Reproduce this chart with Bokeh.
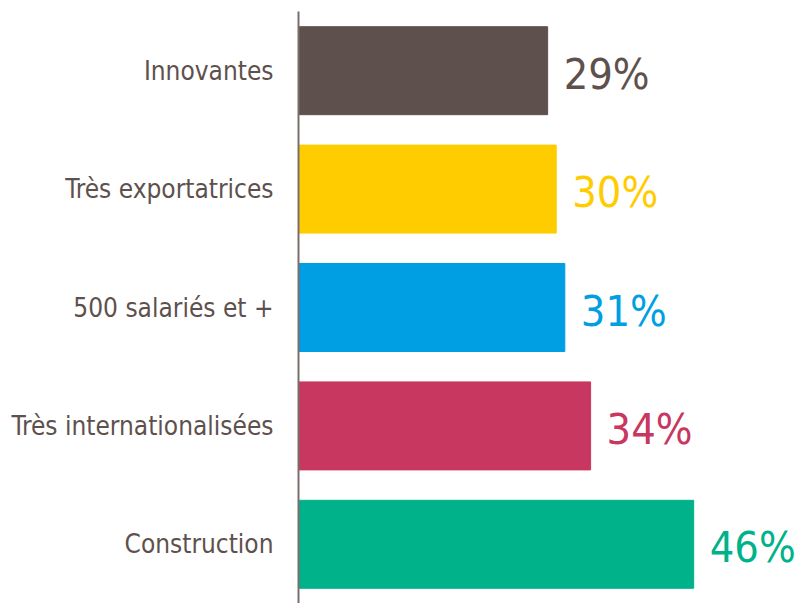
from bokeh.plotting import figure
from bokeh.models import ColumnDataSource, Range1d, FactorRange
from bokeh.embed import file_html
from bokeh.resources import INLINE
from bokeh.core.properties import value

categories = ["Innovantes", "Très exportatrices", "500 salariés et +",
              "Très internationalisées", "Construction"]
values = [29, 30, 31, 34, 46]
colors = ["#5E514D", "#FFCC00", "#009FE3", "#C8375F", "#00B28A"]
labels = [f"{v}%" for v in values]

FONT = "DejaVu Sans Condensed"

src = ColumnDataSource(dict(cat=categories, val=values, col=colors, lab=labels))

p = figure(width=798, height=603, output_backend="svg", toolbar_location=None,
           y_range=FactorRange(factors=list(reversed(categories)), range_padding=0),
           x_range=Range1d(0, 58.2),
           min_border_left=298, min_border_right=0, min_border_top=11, min_border_bottom=0)

p.hbar(y="cat", right="val", left=0, height=0.743, color="col", source=src)
p.text(x="val", y="cat", text="lab", text_color="col", source=src,
       x_offset=16, y_offset=3, text_align="left", text_baseline="middle",
       text_font=value(FONT), text_font_size="43px")

p.xaxis.visible = False
p.xgrid.visible = False
p.ygrid.visible = False
p.outline_line_color = None
p.background_fill_color = "white"
p.border_fill_color = "white"

ya = p.yaxis[0]
ya.axis_line_color = "#7A6E6A"
ya.axis_line_width = 2
ya.major_tick_line_color = None
ya.minor_tick_line_color = None
ya.major_label_text_font = FONT
ya.major_label_text_font_size = "26px"
ya.major_label_text_color = "#5E514D"
ya.major_label_standoff = 19

open("out.html", "w").write(file_html(p, INLINE))
